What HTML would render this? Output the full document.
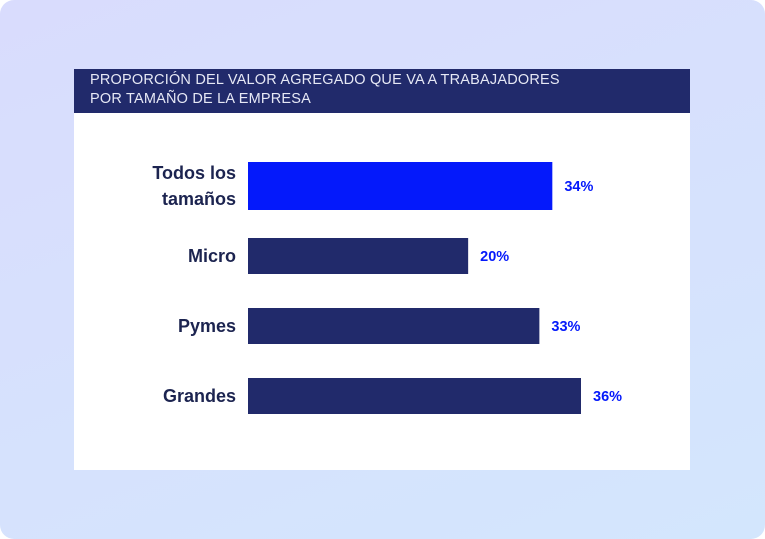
<!DOCTYPE html>
<html><head><meta charset="utf-8"><style>
body{margin:0;width:765px;height:539px;overflow:hidden;font-family:"Liberation Sans",sans-serif;}
.bg{position:absolute;left:0;top:0;width:765px;height:539px;border-radius:14px;background:linear-gradient(160deg,#d9dcfd 0%,#d6e2fd 60%,#d3e6fd 100%);}
.panel{position:absolute;left:74px;top:69px;width:616px;height:401px;background:#fff;}
.hdr{position:absolute;left:74px;top:69px;width:616px;height:44px;background:#212a6b;color:#e6e8f5;font-size:14.5px;line-height:19px;padding:2px 0 0 16px;box-sizing:border-box;letter-spacing:0.2px;}
</style></head><body>
<div class="bg"></div>
<div class="panel"></div>
<div class="hdr">PROPORCIÓN DEL VALOR AGREGADO QUE VA A TRABAJADORES<br>POR TAMAÑO DE LA EMPRESA</div>
<svg id="chart" width="765" height="539" style="position:absolute;left:0;top:0"></svg>
<script>
const categories=[["Todos los","tamaños"],["Micro"],["Pymes"],["Grandes"]];
const values=[32.9,23.8,31.5,36];
const valueLabels=["34%","20%","33%","36%"];
const svg=document.getElementById('chart');
const NS='http://www.w3.org/2000/svg';
const x0=248, pxPer=9.25;
function xScale(v){return x0+v*pxPer;}
const rows=[{y:162,h:48},{y:238,h:36},{y:308,h:36},{y:378,h:36}];
categories.forEach((c,i)=>{
  const r=rows[i];
  const rect=document.createElementNS(NS,'rect');
  
  
  rect.setAttribute('x',x0);rect.setAttribute('y',r.y);
  rect.setAttribute('width',xScale(values[i])-x0);rect.setAttribute('height',r.h);
  rect.setAttribute('fill',i===0?'#0419fb':'#212a6b');
  svg.appendChild(rect);
  const cy=r.y+r.h/2;
  const t=document.createElementNS(NS,'text');
  
  
  t.setAttribute('text-anchor','end');t.setAttribute('x',236);
  t.setAttribute('font-size','18');t.setAttribute('font-weight','bold');t.setAttribute('fill','#1c2450');
  c.forEach((line,j)=>{
    const ts=document.createElementNS(NS,'tspan');
    ts.setAttribute('x',236);
    ts.setAttribute('y',cy+6+(j-(c.length-1)/2)*26);
    ts.textContent=line;t.appendChild(ts);
  });
  svg.appendChild(t);
  const v=document.createElementNS(NS,'text');
  
  
  v.setAttribute('x',xScale(values[i])+12);v.setAttribute('y',cy+5);
  v.setAttribute('font-size','14.5');v.setAttribute('font-weight','bold');v.setAttribute('fill','#0419fb');
  v.textContent=valueLabels[i];
  svg.appendChild(v);
});
</script>
</body></html>
